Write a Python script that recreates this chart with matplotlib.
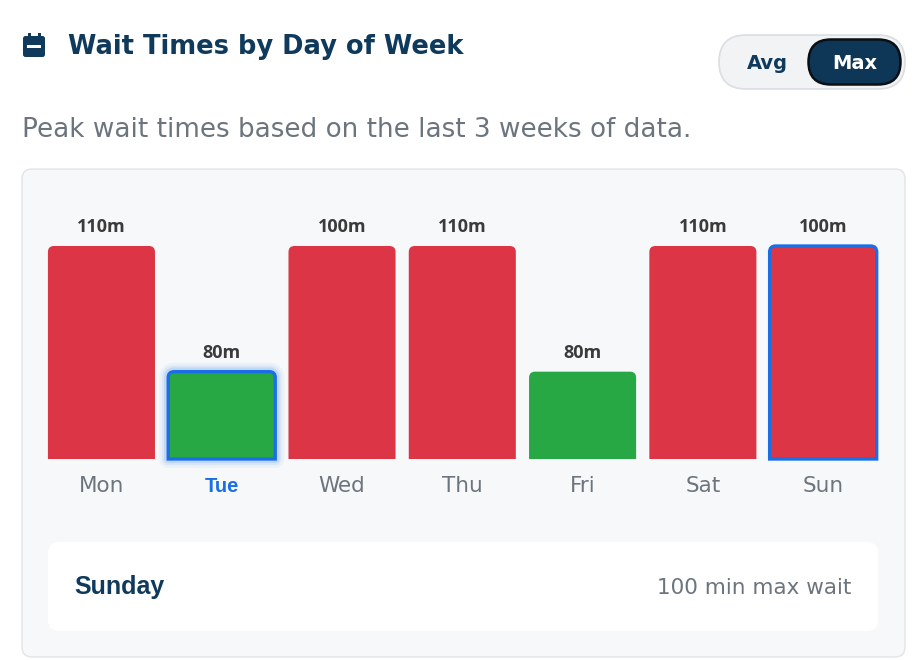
import matplotlib
matplotlib.use("Agg")
import matplotlib.pyplot as plt
from matplotlib.patches import FancyBboxPatch, PathPatch, Rectangle
from matplotlib.path import Path

# ---------------- data ----------------
days = ["Mon", "Tue", "Wed", "Thu", "Fri", "Sat", "Sun"]
max_wait_min = [110, 80, 100, 110, 80, 110, 100]
bar_level_pct = [100, 41, 100, 100, 41, 100, 100]   # displayed bar height (% of full)
bar_status = ["high", "low", "high", "high", "low", "high", "high"]
hovered_day = "Tue"
selected_day = "Sun"
selected_label = "Sunday"
title_text = "Wait Times by Day of Week"
subtitle_text = "Peak wait times based on the last 3 weeks of data."
toggle_labels = ["Avg", "Max"]

# ---------------- style ----------------
W, H = 915, 660
NAVY = "#0f3a5c"
PILL = "#0e3656"
GRAY = "#6c757d"
DARK = "#3b3b3b"
RED = "#dc3545"
GREEN = "#28a745"
BLUE = "#1a6fe6"
PANEL = "#f7f8fa"
PANEL_EDGE = "#e1e4e8"
status_color = {"high": RED, "low": GREEN}

MONT = ["Open Sans", "DejaVu Sans"]
WIDE = ["DejaVu Sans"]
ARIAL = ["Liberation Sans", "DejaVu Sans"]

fig = plt.figure(figsize=(W / 100, H / 100), dpi=100)
fig.patch.set_facecolor("white")

bg = fig.add_axes([0, 0, 1, 1])
bg.set_xlim(0, W)
bg.set_ylim(H, 0)
bg.axis("off")

# calendar icon
bg.add_patch(FancyBboxPatch((23, 36), 22, 21, boxstyle="round,pad=0,rounding_size=2.5",
                            fc=NAVY, ec="none"))
bg.add_patch(Rectangle((27.5, 33), 3, 6, fc=NAVY, ec="none"))
bg.add_patch(Rectangle((37.5, 33), 3, 6, fc=NAVY, ec="none"))
bg.add_patch(Rectangle((27, 45), 14, 3.2, fc="white", ec="none"))

bg.text(68, 53.5, title_text, family=WIDE, fontsize=18.5, fontweight="semibold",
        color=NAVY, va="baseline", ha="left")

# toggle
bg.add_patch(FancyBboxPatch((719, 35), 186, 54, boxstyle="round,pad=0,rounding_size=27",
                            fc="#f1f3f5", ec="#dadee3", lw=1.2))
bg.add_patch(FancyBboxPatch((808.5, 39.5), 92, 45, boxstyle="round,pad=0,rounding_size=22.5",
                            fc=PILL, ec="#0a0f14", lw=1.8))
bg.text(767, 69, toggle_labels[0], family=WIDE, fontsize=14, fontweight="bold",
        color=NAVY, ha="center", va="baseline")
bg.text(854.5, 69, toggle_labels[1], family=WIDE, fontsize=14, fontweight="bold",
        color="white", ha="center", va="baseline")

bg.text(22, 137, subtitle_text, family=WIDE, fontsize=18.9, color=GRAY,
        ha="left", va="baseline")

# panel
bg.add_patch(FancyBboxPatch((22, 169), 883, 488, boxstyle="round,pad=0,rounding_size=10",
                            fc=PANEL, ec=PANEL_EDGE, lw=1.0))
# bottom card
bg.add_patch(FancyBboxPatch((48, 542), 830, 89, boxstyle="round,pad=0,rounding_size=11",
                            fc="white", ec="none"))
sel_idx = days.index(selected_day)
bg.text(74, 594, selected_label, family=ARIAL, fontsize=18, fontweight="bold",
        color=NAVY, ha="left", va="baseline")
bg.text(851, 594, f"{max_wait_min[sel_idx]} min max wait", family=WIDE, fontsize=15.5,
        color=GRAY, ha="right", va="baseline")

# ---------------- bars ----------------
ax_left, ax_w = 41.3, 842.0
ax_bot, ax_h = 459.0, 213.0
ax = fig.add_axes([ax_left / W, (H - ax_bot) / H, ax_w / W, ax_h / H])
ax.set_xlim(-0.5, len(days) - 0.5)
ax.set_ylim(0, 100)
ax.axis("off")
ax.patch.set_alpha(0)

xs = list(range(len(days)))
bars = ax.bar(xs, bar_level_pct, width=0.89,
              color=[status_color[s] for s in bar_status])

px_x = ax_w / (len(days))      # pixels per x unit
px_y = ax_h / 100.0            # pixels per y unit
r_px = 6.0
rx, ry = r_px / px_x, r_px / px_y
PT = 72 / 100                  # points per pixel


def top_rounded(x0, x1, y0, y1, rx, ry):
    verts = [(x0, y0), (x0, y1 - ry), (x0, y1), (x0 + rx, y1), (x1 - rx, y1),
             (x1, y1), (x1, y1 - ry), (x1, y0), (x0, y0)]
    codes = [Path.MOVETO, Path.LINETO, Path.CURVE3, Path.CURVE3, Path.LINETO,
             Path.CURVE3, Path.CURVE3, Path.LINETO, Path.CLOSEPOLY]
    return Path(verts, codes)


for i, b in enumerate(bars):
    b.set_visible(False)
    x0 = b.get_x()
    x1 = x0 + b.get_width()
    xc = x0 + b.get_width() / 2
    h = b.get_height()
    fc = b.get_facecolor()
    path = top_rounded(x0, x1, 0, h, rx, ry)
    if days[i] == hovered_day:
        for lw, a in [(13, 0.05), (9, 0.08), (6, 0.12)]:
            ax.add_patch(PathPatch(path, fc="none", ec=BLUE, lw=lw, alpha=a,
                                   clip_on=False, joinstyle="round"))
    if days[i] in (hovered_day, selected_day):
        ax.add_patch(PathPatch(path, fc=fc, ec=BLUE, lw=2.4, clip_on=False, zorder=3))
    else:
        ax.add_patch(PathPatch(path, fc=fc, ec="none", clip_on=False, zorder=3))

    ax.annotate(f"{max_wait_min[i]}m", (xc, h),
                xytext=(0, 14 * PT), textcoords="offset points", ha="center", va="baseline",
                family=MONT, fontsize=13, fontweight="bold", color=DARK,
                annotation_clip=False)
    if days[i] == hovered_day:
        ax.annotate(days[i], (xc, 0), xytext=(0, -33 * PT),
                    textcoords="offset points", ha="center", va="baseline",
                    family=ARIAL, fontsize=14.5, fontweight="bold", color=BLUE,
                    annotation_clip=False)
    else:
        ax.annotate(days[i], (xc, 0), xytext=(0, -33 * PT),
                    textcoords="offset points", ha="center", va="baseline",
                    family=WIDE, fontsize=15.5, color=GRAY, annotation_clip=False)

fig.savefig("out.png", dpi=100, facecolor="white")
